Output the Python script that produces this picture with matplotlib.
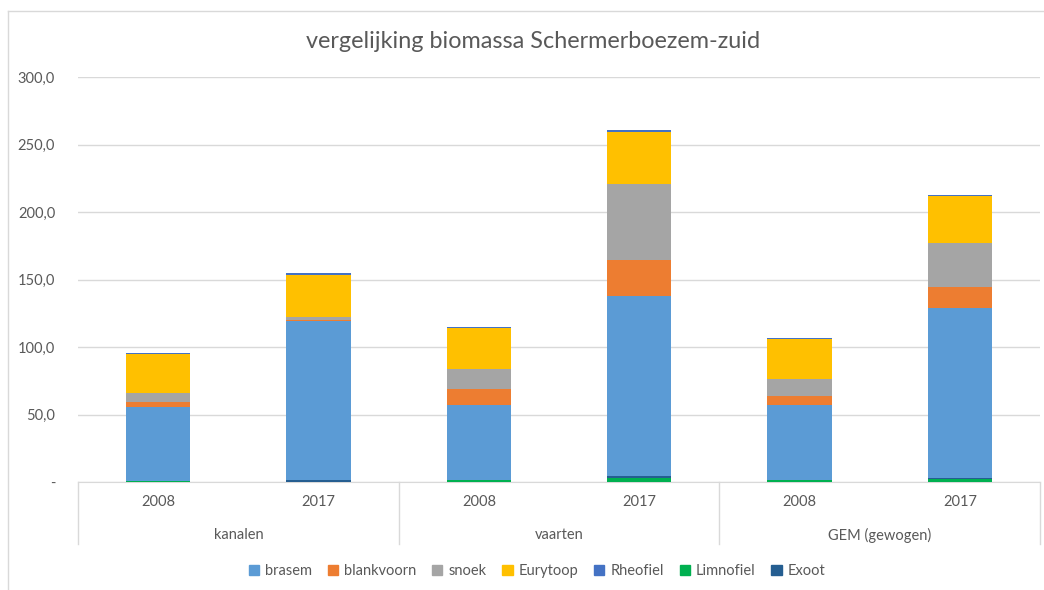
import numpy as np
import matplotlib.pyplot as plt
from matplotlib.lines import Line2D
from matplotlib.patches import Patch

plt.rcParams['font.family'] = ['Lato', 'DejaVu Sans']

# categories: (group, year)
groups = ['kanalen', 'vaarten', 'GEM (gewogen)']
years = ['2008', '2017']

# biomass per species, one value per bar (kanalen 08/17, vaarten 08/17, GEM 08/17)
limnofiel = [0.8, 0.0, 1.8, 3.0, 1.6, 2.2]
exoot = [0.0, 1.2, 0.0, 1.6, 0.0, 1.0]
brasem = [54.9, 118.1, 55.2, 133.0, 55.4, 126.0]
blankvoorn = [3.3, 1.0, 12.0, 26.6, 6.8, 15.0]
snoek = [7.0, 2.0, 14.6, 56.2, 12.2, 32.8]
eurytoop = [28.7, 31.0, 30.4, 38.7, 29.8, 34.8]
rheofiel = [1.1, 1.3, 1.0, 1.3, 1.2, 1.0]

colors = {
    'brasem': '#5b9bd5',
    'blankvoorn': '#ed7d31',
    'snoek': '#a5a5a5',
    'Eurytoop': '#ffc000',
    'Rheofiel': '#4472c4',
    'Limnofiel': '#00b050',
    'Exoot': '#255e91',
}

# stacking order bottom -> top
stack = [('Limnofiel', limnofiel), ('Exoot', exoot), ('brasem', brasem),
         ('blankvoorn', blankvoorn), ('snoek', snoek), ('Eurytoop', eurytoop),
         ('Rheofiel', rheofiel)]

fig = plt.figure(figsize=(10.44, 5.90), dpi=100)
ax = fig.add_axes([78 / 1044, 1 - 482 / 590, 962 / 1044, 405 / 590])

x = np.arange(len(brasem)) + 0.5
bottom = np.zeros(len(brasem))
for name, vals in stack:
    vals = np.array(vals)
    ax.bar(x, vals, width=0.4, bottom=bottom, color=colors[name],
           linewidth=0, zorder=3)
    bottom += vals

ax.set_xlim(0, 6)
ax.set_ylim(0, 300)
ax.set_yticks(np.arange(0, 301, 50))
ax.set_yticklabels(['-'] + ['%d,0' % v for v in range(50, 301, 50)])
ax.tick_params(axis='y', length=0, pad=16.5, labelsize=10.5, labelcolor='#595959')
ax.tick_params(axis='x', length=0, labelbottom=False)
ax.grid(axis='y', color='#d9d9d9', linewidth=1, zorder=0)
for side in ['top', 'right', 'left']:
    ax.spines[side].set_visible(False)
ax.spines['bottom'].set_color('#d9d9d9')

# two-level category axis
for i, xi in enumerate(x):
    ax.text(xi, -15, years[i % 2], ha='center', va='center', fontsize=10.5,
            color='#595959', clip_on=False)
for g, name in enumerate(groups):
    ax.text(2 * g + 1, -39.5, name, ha='center', va='center', fontsize=10.5,
            color='#595959', clip_on=False)
for b in [0, 2, 4, 6]:
    ax.plot([b, b], [0, -46], color='#d9d9d9', linewidth=1, clip_on=False)

fig.text(533 / 1044, 1 - 42 / 590, 'vergelijking biomassa Schermerboezem-zuid',
         ha='center', va='center', fontsize=16.8, color='#595959')

# chart border
fig.add_artist(Line2D([8 / 1044, 8 / 1044], [0, 1 - 11 / 590], color='#d9d9d9', linewidth=1))
fig.add_artist(Line2D([8 / 1044, 1], [1 - 11 / 590, 1 - 11 / 590], color='#d9d9d9', linewidth=1))

legend_order = ['brasem', 'blankvoorn', 'snoek', 'Eurytoop', 'Rheofiel', 'Limnofiel', 'Exoot']
handles = [Patch(color=colors[n], label=n) for n in legend_order]
fig.legend(handles=handles, loc='center', bbox_to_anchor=(537 / 1044, 1 - 571 / 590),
           ncol=7, frameon=False, fontsize=10.5, handlelength=0.7, handleheight=0.7,
           handletextpad=0.4, columnspacing=1.1, labelcolor='#595959')

fig.savefig('out.png', dpi=100)
